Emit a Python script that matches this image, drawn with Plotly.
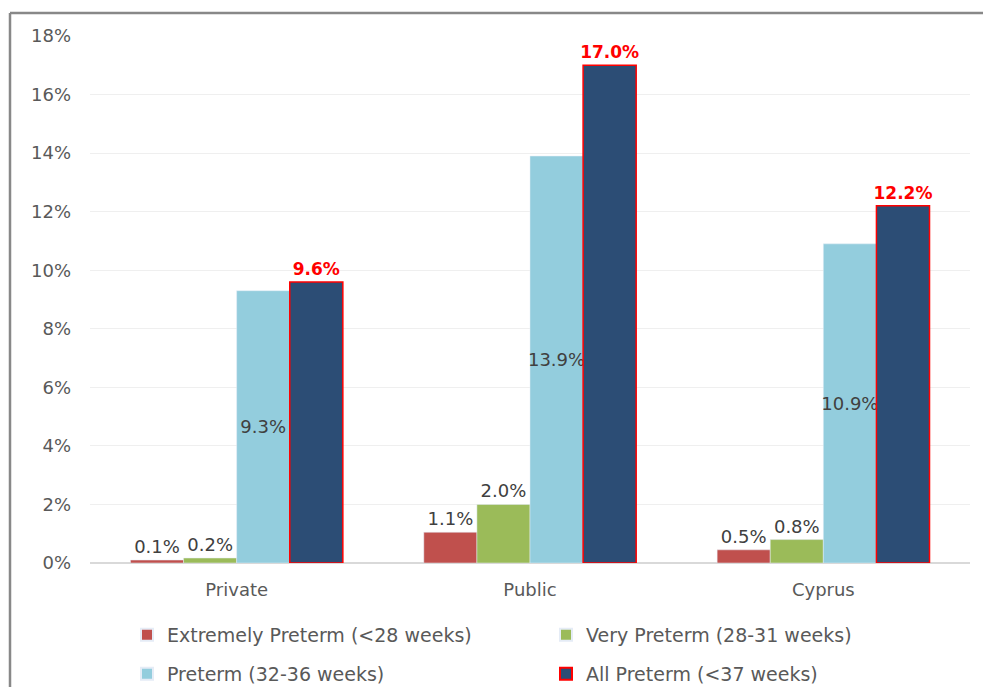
import plotly.graph_objects as go

categories = ["Private", "Public", "Cyprus"]
extremely = [0.001, 0.0105, 0.0045]
extremely_lbl = ["0.1%", "1.1%", "0.5%"]
very = [0.0017, 0.020, 0.008]
very_lbl = ["0.2%", "2.0%", "0.8%"]
preterm = [0.093, 0.139, 0.109]
preterm_lbl = ["9.3%", "13.9%", "10.9%"]
allp = [0.096, 0.170, 0.122]
allp_lbl = ["9.6%", "17.0%", "12.2%"]
yticks = [0, 0.02, 0.04, 0.06, 0.08, 0.10, 0.12, 0.14, 0.16, 0.18]
ytick_lbl = ["0%", "2%", "4%", "6%", "8%", "10%", "12%", "14%", "16%", "18%"]

W, H = 983, 687
L, R, T, B = 90, 13, 36, 124
pw, ph = W - L - R, H - T - B

lblfont = dict(family="DejaVu Sans", size=18, color="#404040")

fig = go.Figure()
fig.add_bar(x=categories, y=extremely, name="Extremely Preterm (<28 weeks)",
            marker=dict(color="#C0504D"), text=extremely_lbl, textposition="outside",
            textfont=lblfont, cliponaxis=False, constraintext="none", legend="legend")
fig.add_bar(x=categories, y=very, name="Very Preterm (28-31 weeks)",
            marker=dict(color="#9BBB59"), text=very_lbl, textposition="outside",
            textfont=lblfont, cliponaxis=False, constraintext="none", legend="legend")
fig.add_bar(x=categories, y=preterm, name="Preterm (32-36 weeks)",
            marker=dict(color="#93CDDD"), text=preterm_lbl, textposition="inside",
            insidetextanchor="middle", textangle=0, textfont=lblfont, cliponaxis=False,
            constraintext="none", legend="legend2")
fig.add_bar(x=categories, y=allp, name="All Preterm (<37 weeks)",
            marker=dict(color="#2C4D75", line=dict(color="#FF0000", width=1.5)),
            text=allp_lbl, textposition="outside",
            textfont=dict(family="DejaVu Sans", size=17, color="#FF0000", weight="bold"),
            cliponaxis=False, constraintext="none", legend="legend2")

legfont = dict(family="DejaVu Sans", size=19, color="#595959")
legx = (127 - L) / pw


def leg(ycenter):
    return dict(orientation="h", x=legx, y=(T + ph - ycenter) / ph,
                xanchor="left", yanchor="middle",
                entrywidth=374, entrywidthmode="pixels",
                font=legfont, itemsizing="constant", bgcolor="rgba(0,0,0,0)")


fig.update_layout(
    width=W, height=H,
    margin=dict(l=L, r=R, t=T, b=B, autoexpand=False),
    paper_bgcolor="white", plot_bgcolor="white",
    barmode="group", bargap=0.276, bargroupgap=0,
    font=dict(family="DejaVu Sans", color="#595959"),
    xaxis=dict(tickfont=dict(size=18, color="#595959"), showgrid=False,
               showline=False, ticks="", ticklabelstandoff=14),
    yaxis=dict(range=[0, 0.18], tickvals=yticks, ticktext=ytick_lbl,
               tickfont=dict(size=18, color="#595959"),
               showgrid=True, gridcolor="#EFEFEF", gridwidth=1,
               zeroline=True, zerolinecolor="#D9D9D9", zerolinewidth=1.5,
               ticklabelstandoff=18, showline=False),
    showlegend=True,
    legend=leg(635),
    legend2=leg(674),
    shapes=[
        dict(type="line", xref="paper", yref="paper",
             x0=(10 - L) / pw, x1=(10 - L) / pw, y0=(T + ph - 13) / ph, y1=-(B + 5) / ph,
             line=dict(color="#888888", width=2.5)),
        dict(type="line", xref="paper", yref="paper",
             x0=(10 - L) / pw, x1=(W + 5 - L) / pw, y0=(T + ph - 13) / ph, y1=(T + ph - 13) / ph,
             line=dict(color="#888888", width=2.5)),
    ],
)

fig.write_html("out.html", config={"displayModeBar": False},
               post_script="document.body.style.margin='0';document.body.style.overflow='hidden';")
